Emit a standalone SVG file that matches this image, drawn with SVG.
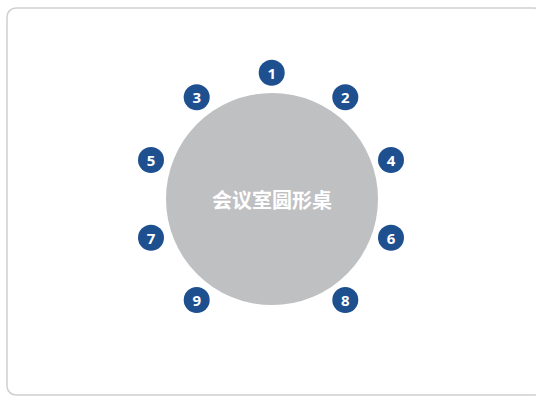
<svg xmlns="http://www.w3.org/2000/svg" width="536" height="396" viewBox="0 0 536 396">
<style>
.frame{fill:#fff;stroke:#cfcfcf;stroke-width:1.5}
.table{fill:#bfc0c2}
.seat{fill:#1e4f8f}
.seatnum{fill:#fff;font-family:"Noto Sans","Liberation Sans",sans-serif;font-weight:bold;font-size:15px;text-anchor:middle;dominant-baseline:central}
.title{fill:#fff;font-family:"Noto Sans CJK SC",sans-serif;font-weight:bold;font-size:20px;text-anchor:middle;dominant-baseline:central}
</style>
<rect class="frame" x="7" y="8" width="536" height="387" rx="9"/>
<g id="table"><circle class="table" cx="272" cy="199" r="106"/><text class="title" x="272" y="199">会议室圆形桌</text></g>
<g id="connectors"></g>
<g id="seat1"><circle class="seat" cx="271.7" cy="72.7" r="13"/><text class="seatnum" x="271.7" y="72.7">1</text></g>
<g id="seat2"><circle class="seat" cx="345.3" cy="97.3" r="13"/><text class="seatnum" x="345.3" y="97.3">2</text></g>
<g id="seat3"><circle class="seat" cx="196.7" cy="97.3" r="13"/><text class="seatnum" x="196.7" y="97.3">3</text></g>
<g id="seat4"><circle class="seat" cx="391" cy="160" r="13"/><text class="seatnum" x="391" y="160">4</text></g>
<g id="seat5"><circle class="seat" cx="151" cy="160" r="13"/><text class="seatnum" x="151" y="160">5</text></g>
<g id="seat6"><circle class="seat" cx="391" cy="237.7" r="13"/><text class="seatnum" x="391" y="237.7">6</text></g>
<g id="seat7"><circle class="seat" cx="151" cy="237.7" r="13"/><text class="seatnum" x="151" y="237.7">7</text></g>
<g id="seat8"><circle class="seat" cx="345.3" cy="300" r="13"/><text class="seatnum" x="345.3" y="300">8</text></g>
<g id="seat9"><circle class="seat" cx="196.7" cy="300" r="13"/><text class="seatnum" x="196.7" y="300">9</text></g>
</svg>
